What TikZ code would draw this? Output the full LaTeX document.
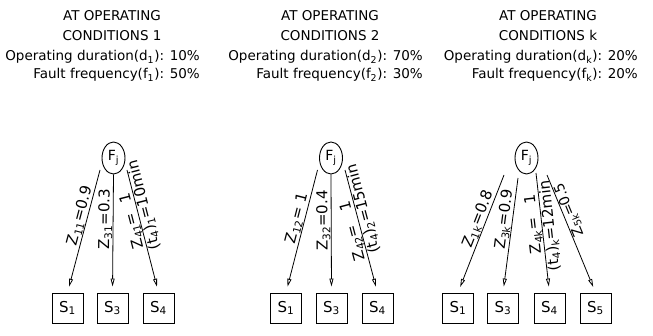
\documentclass[tikz,border=0pt]{standalone}
\usepackage{fontspec}
\setmainfont{DejaVu Sans}
\usetikzlibrary{shapes.geometric,arrows.meta,calc}
\begin{document}
\begin{tikzpicture}[x=1pt,y=1pt,
  hdr/.style={font=\fontsize{13.5}{16}\selectfont, inner sep=0pt},
  fault/.style={draw, ellipse, line width=0.9pt, minimum width=23pt, minimum height=32pt, inner sep=0pt, font=\fontsize{14}{16}\selectfont},
  sect/.style={draw, line width=0.9pt, minimum width=31pt, minimum height=30pt, inner sep=0pt, font=\fontsize{15}{17}\selectfont},
  flow/.style={line width=0.8pt, -{Triangle[open,length=8pt,width=4pt]}, shorten >=6pt},
  lbl/.style={font=\fontsize{15}{17}\selectfont, sloped, allow upside down, inner sep=0.6pt}
]
\useasboundingbox (0,0) rectangle (653,335);

% ---------- headings ----------
\foreach \cx/\rx/\n/\d/\f/\sb in {112/200/1/10/50/1, 330/423/2/70/30/2, 548/638/k/20/20/k}{
  \node[hdr, anchor=base] at (\cx,314) {AT OPERATING};
  \node[hdr, anchor=base] at (\cx,294) {CONDITIONS \n};
  \node[hdr, anchor=base east] at (\rx,274) {Operating duration(d\textsubscript{\sb}): \d\%};
  \node[hdr, anchor=base east] at (\rx,256) {Fault frequency(f\textsubscript{\sb}): \f\%};
}

% ---------- condition 1 ----------
\node[fault] (F1) at (113.5,177) {F\textsubscript{j}};
\node[sect] (S11) at (67.5,27) {S\textsubscript{1}};
\node[sect] (S13) at (112.5,27) {S\textsubscript{3}};
\node[sect] (S14) at (158.5,27) {S\textsubscript{4}};
\coordinate (A11) at ($(F1.center)+(-13.5,-12)$);
\coordinate (A13) at (F1.south);
\coordinate (A14) at ($(F1.center)+(13.5,-12)$);
\draw[flow] (A11) -- (S11.north);
\draw[flow] (A13) -- (S13.north);
\draw[flow] (A14) -- (S14.north);
\path (S11.north) -- (A11) node[lbl, above, pos=0.61] {Z\textsubscript{11}=0.9};
\path (S13.north) -- (A13) node[lbl, above, pos=0.62] {Z\textsubscript{31}=0.3};
\path (S14.north) -- (A14) node[lbl, above, pos=0.60] {Z\textsubscript{41}=\hspace{11pt}1};
\path (S14.north) -- (A14) node[lbl, below, pos=0.70] {(t\textsubscript{4})\textsubscript{1}=10min};

% ---------- condition 2 ----------
\node[fault] (F2) at (331,177) {F\textsubscript{j}};
\node[sect] (S21) at (286,27) {S\textsubscript{1}};
\node[sect] (S23) at (331.5,27) {S\textsubscript{3}};
\node[sect] (S24) at (377.5,27) {S\textsubscript{4}};
\coordinate (A21) at ($(F2.center)+(-13.5,-12)$);
\coordinate (A23) at (F2.south);
\coordinate (A24) at ($(F2.center)+(14,-12)$);
\draw[flow] (A21) -- (S21.north);
\draw[flow] (A23) -- (S23.north);
\draw[flow] (A24) -- (S24.north);
\path (S21.north) -- (A21) node[lbl, above, pos=0.59] {Z\textsubscript{12}=\hspace{5pt}1};
\path (S23.north) -- (A23) node[lbl, above, pos=0.61] {Z\textsubscript{32}=0.4};
\path (S24.north) -- (A24) node[lbl, above, pos=0.52] {Z\textsubscript{42}=\hspace{15pt}1};
\path (S24.north) -- (A24) node[lbl, below, pos=0.67] {(t\textsubscript{4})\textsubscript{2}=15min};

% ---------- condition k ----------
\node[fault] (F3) at (526.5,177) {F\textsubscript{j}};
\node[sect] (S31) at (458,27) {S\textsubscript{1}};
\node[sect] (S33) at (503,27) {S\textsubscript{3}};
\node[sect] (S34) at (549.5,27) {S\textsubscript{4}};
\node[sect] (S35) at (595.5,27) {S\textsubscript{5}};
\coordinate (A31) at ($(F3.center)+(-22.5,-17)$);
\coordinate (A33) at ($(F3.center)+(-8.5,-20)$);
\coordinate (A34) at ($(F3.center)+(9.5,-15)$);
\coordinate (A35) at ($(F3.center)+(20.5,-17)$);
\draw[flow] (A31) -- (S31.north);
\draw[flow] (A33) -- (S33.north);
\draw[flow] (A34) -- (S34.north);
\draw[flow] (A35) -- (S35.north);
\path (S31.north) -- (A31) node[lbl, above, pos=0.60] {Z\textsubscript{1k}=0.8};
\path (S33.north) -- (A33) node[lbl, above, pos=0.63] {Z\textsubscript{3k}=0.9};
\path (S34.north) -- (A34) node[lbl, above, pos=0.58] {Z\textsubscript{4k}=\hspace{14pt}1};
\path (S34.north) -- (A34) node[lbl, below, pos=0.55] {(t\textsubscript{4})\textsubscript{k}=12min};
\path (S35.north) -- (A35) node[lbl, below, pos=0.68, font=\fontsize{14}{16}\selectfont] {Z\textsubscript{5k}=0.5};
\end{tikzpicture}
\end{document}
